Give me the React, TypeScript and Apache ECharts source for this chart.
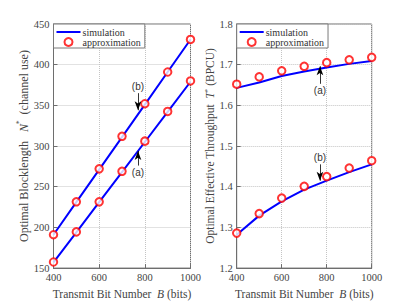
import React, { useEffect, useRef } from "react";
import * as echarts from "echarts";

const bits = [400, 500, 600, 700, 800, 900, 1000];
// Left: optimal blocklength
const simBlockA = [157, 194, 231, 268, 305, 342, 379];
const simBlockB = [191, 231, 271, 311, 351, 391, 431];
const apxBlockA = [157.5, 194.5, 231.5, 269, 306, 342.5, 380];
const apxBlockB = [191, 231.5, 272, 312, 352, 391, 431];
// Right: optimal effective throughput
const simThrA = [1.643, 1.656, 1.672, 1.683, 1.693, 1.702, 1.709];
const simThrB = [1.282, 1.329, 1.364, 1.393, 1.415, 1.436, 1.455];
const apxThrA = [1.652, 1.670, 1.685, 1.696, 1.705, 1.712, 1.718];
const apxThrB = [1.286, 1.334, 1.372, 1.401, 1.425, 1.446, 1.464];

const xTicks = { min: 400, max: 1000, interval: 200 };
const yLeft = { min: 150, max: 450, interval: 50 };
const yRight = { min: 1.2, max: 1.8, interval: 0.1 };

const SERIF = "'Liberation Serif', 'Times New Roman', serif";
const SANS = "'Liberation Sans', Arial, sans-serif";
const TXT = "#444";

const pairs = (ys: number[]) => bits.map((b, i) => [b, ys[i]]);

export default function App() {
  const ref = useRef<HTMLDivElement>(null);
  useEffect(() => {
    if (!ref.current) return;
    const chart = echarts.init(ref.current, null, { renderer: "svg" });
    const axisCommon = {
      axisLine: { show: true, lineStyle: { color: "#6e6e6e", width: 1 } },
      axisTick: { show: true, inside: true, length: 4, lineStyle: { color: "#6e6e6e" } },
      splitLine: { show: true, lineStyle: { color: "#c4c4c4", type: "dotted", width: 1 } },
      axisLabel: { color: TXT, fontFamily: SERIF, fontSize: 10.5, fontWeight: "normal", margin: 4, formatter: (v: number) => String(v) },
    };
    const richFor = (size: number) => ({
      n: { fontFamily: SERIF, fontSize: size, fontWeight: "normal", color: TXT },
      i: { fontFamily: SERIF, fontSize: size, fontWeight: "normal", fontStyle: "italic", color: TXT },
      s: { fontFamily: SERIF, fontSize: size * 0.6, fontWeight: "normal", color: TXT, padding: [0, 0, size * 0.6, 0] },
    });
    const nameStyle = (size: number) => ({
      color: TXT,
      fontFamily: SERIF,
      fontSize: size,
      fontWeight: "normal",
      rich: richFor(size),
    });
    const xAxisBase = (gi: number) => ({
      ...axisCommon,
      type: "value",
      gridIndex: gi,
      ...xTicks,
      name: "{n|Transmit Bit Number  }{i|B}{n| (bits)}",
      nameLocation: "middle",
      nameGap: 17,
      nameTextStyle: nameStyle(11.5),
    });
    const arrow = (x: number, y0: number, y1: number, text: string) => ({
      silent: true,
      symbol: ["none", "arrow"],
      symbolSize: [5, 9],
      lineStyle: { color: "#000", width: 0.8, type: "solid" },
      label: {
        show: true,
        position: "start",
        distance: 2,
        formatter: text,
        fontFamily: SANS,
        fontSize: 10,
        color: "#333",
      },
      data: [[{ coord: [x, y0] }, { coord: [x, y1] }]],
    });
    const legendBase = {
      data: [
        { name: "simulation", icon: "path://M0,0 L24,0 L24,2 L0,2 Z" },
        { name: "approximation" },
      ],
      orient: "vertical",
      top: 24,
      itemWidth: 24,
      itemHeight: 8,
      itemGap: 0,
      padding: [3, 4, 1, 3],
      borderColor: "#7a7a7a",
      borderWidth: 1,
      borderRadius: 0,
      backgroundColor: "#fff",
      textStyle: { fontFamily: SERIF, fontSize: 10, color: "#333", lineHeight: 10, padding: [0, 0, 0, -3] },
    };
    const simStyle = { color: "#0000ff", width: 2 };
    const sim = (name: string, gi: number, ys: number[], extra: any = {}) => ({
      type: "line",
      name,
      xAxisIndex: gi,
      yAxisIndex: gi,
      data: pairs(ys),
      symbol: "none",
      lineStyle: simStyle,
      itemStyle: { color: "#0000ff" },
      z: 2,
      ...extra,
    });
    const apx = (gi: number, ys: number[]) => ({
      type: "scatter",
      name: "approximation",
      xAxisIndex: gi,
      yAxisIndex: gi,
      data: pairs(ys),
      symbol: "emptyCircle",
      symbolSize: 7.5,
      itemStyle: { color: "#ff0000", borderColor: "#ff0000", borderWidth: 1.6 },
      z: 3,
    });
    chart.setOption({
      animation: false,
      backgroundColor: "#fff",
      textStyle: { fontFamily: SERIF },
      grid: [
        { left: 53.5, top: 24, width: 137, height: 248, show: true, borderColor: "#6e6e6e", borderWidth: 1, backgroundColor: "transparent" },
        { left: 236.7, top: 24, width: 135, height: 248, show: true, borderColor: "#6e6e6e", borderWidth: 1, backgroundColor: "transparent" },
      ],
      legend: [
        { ...legendBase, left: 53.5 },
        { ...legendBase, left: 236.7 },
      ],
      xAxis: [xAxisBase(0), xAxisBase(1)],
      yAxis: [
        {
          ...axisCommon,
          type: "value",
          gridIndex: 0,
          ...yLeft,
          name: "{n|Optimal Blocklength   }{i|N}{s|*}{n|  (channel use)}",
          nameLocation: "middle",
          nameGap: 19,
          nameTextStyle: nameStyle(12),
        },
        {
          ...axisCommon,
          type: "value",
          gridIndex: 1,
          ...yRight,
          axisLabel: { ...axisCommon.axisLabel, formatter: (v: number) => v.toFixed(1) },
          name: "{n|Optimal Effective Throughput  }{i|T}{s|*}{n| (BPCU)}",
          nameLocation: "middle",
          nameGap: 17,
          nameTextStyle: nameStyle(11.5),
        },
      ],
      series: [
        sim("simulation", 0, simBlockA, { markLine: arrow(770, 276, 294, "(a)") }),
        sim("simulation", 0, simBlockB, { markLine: arrow(770, 365, 344, "(b)") }),
        apx(0, apxBlockA),
        apx(0, apxBlockB),
        sim("simulation", 1, simThrA, { markLine: arrow(770, 1.653, 1.696, "(a)") }),
        sim("simulation", 1, simThrB, { markLine: arrow(770, 1.455, 1.415, "(b)") }),
        apx(1, apxThrA),
        apx(1, apxThrB),
      ],
    });
    return () => chart.dispose();
  }, []);
  return (
    <div
      ref={ref}
      style={{ position: "absolute", left: 0, top: 0, width: 415, height: 305 }}
    />
  );
}
